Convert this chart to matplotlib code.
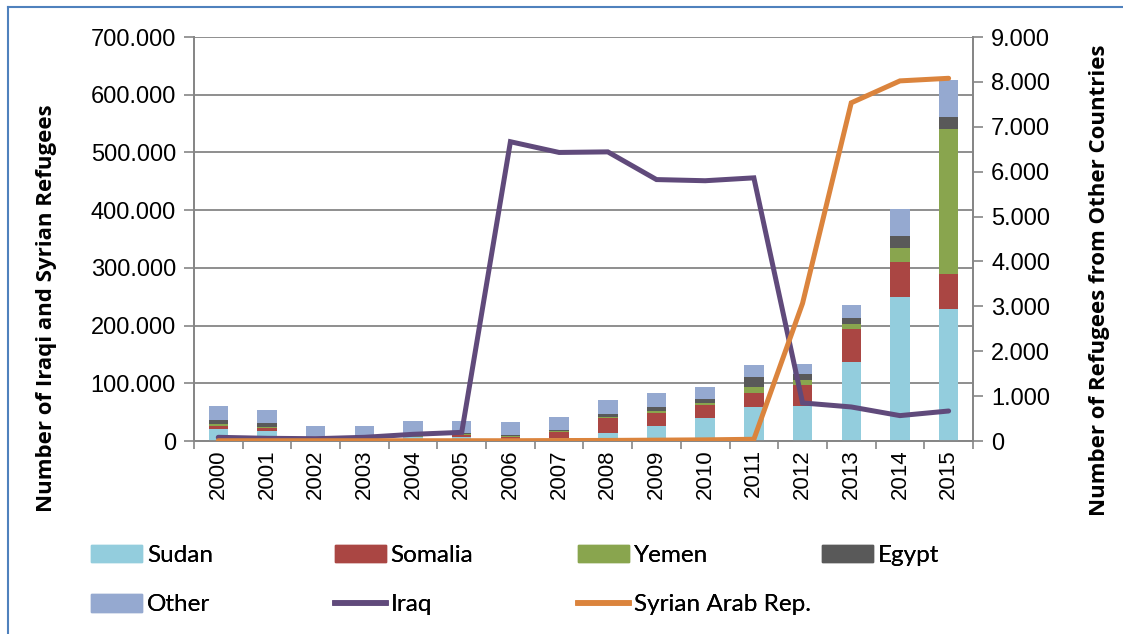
import numpy as np
import matplotlib
matplotlib.use('Agg')
import matplotlib.pyplot as plt
from matplotlib.ticker import FuncFormatter, FixedLocator
from matplotlib.patches import Patch
from matplotlib.lines import Line2D

years = ['2000', '2001', '2002', '2003', '2004', '2005', '2006', '2007',
         '2008', '2009', '2010', '2011', '2012', '2013', '2014', '2015']

# other countries (right axis)
sudan = [260, 230, 30, 50, 80, 100, 30, 60, 180, 330, 520, 750, 790, 1770, 3200, 2950]
somalia = [70, 50, 20, 30, 20, 40, 70, 150, 340, 300, 290, 330, 460, 720, 790, 760]
yemen = [50, 30, 10, 10, 10, 10, 10, 10, 20, 30, 40, 130, 120, 120, 320, 3250]
egypt = [80, 100, 30, 50, 30, 20, 20, 30, 70, 100, 90, 220, 130, 140, 260, 260]
other = [310, 270, 240, 190, 310, 280, 300, 280, 300, 300, 270, 260, 210, 290, 600, 820]

# Iraq / Syria (left axis)
iraq = [6400, 4700, 4000, 6400, 11600, 15000, 518600, 500000,
        501000, 453000, 451000, 456000, 66000, 59000, 44000, 52000]
syria = [500, 500, 500, 500, 500, 500, 500, 800,
         1000, 1500, 2000, 3000, 238600, 586000, 624000, 628500]

c_sudan = '#93CDDD'
c_somalia = '#AA4643'
c_yemen = '#89A54E'
c_egypt = '#595959'
c_other = '#95A9D0'
c_iraq = '#604A7B'
c_syria = '#DB843D'
grey = '#868686'

plt.rcParams['font.family'] = ['Liberation Sans', 'DejaVu Sans']


def dotfmt(v, pos):
    return '{:,.0f}'.format(v).replace(',', '.')


fig = plt.figure(figsize=(11.23, 6.34), dpi=100)
ax = fig.add_axes([0.1727, 0.3044, 0.6937, 0.6372])
ax2 = ax.twinx()

x = np.arange(len(years))

# bars on right axis
bottom = np.zeros(len(years))
for vals, col, lab in [(sudan, c_sudan, 'Sudan'), (somalia, c_somalia, 'Somalia'),
                       (yemen, c_yemen, 'Yemen'), (egypt, c_egypt, 'Egypt'),
                       (other, c_other, 'Other')]:
    ax2.bar(x, vals, 0.4, bottom=bottom, color=col, label=lab, zorder=2)
    bottom += np.array(vals)

# lines use left axis scale but are drawn above the bars
ax2.plot(x, iraq, color=c_iraq, lw=3.6, transform=ax.transData, zorder=3,
         solid_capstyle='round', solid_joinstyle='miter')
ax2.plot(x, syria, color=c_syria, lw=3.6, transform=ax.transData, zorder=3,
         solid_capstyle='round', solid_joinstyle='miter')

ax.set_xlim(-0.5, 15.5)
ax.set_ylim(0, 700000)
ax2.set_ylim(0, 9000)
ax.set_yticks(np.arange(0, 700001, 100000))
ax2.set_yticks(np.arange(0, 9001, 1000))
ax.yaxis.set_major_formatter(FuncFormatter(dotfmt))
ax2.yaxis.set_major_formatter(FuncFormatter(dotfmt))

ax.grid(axis='y', color=grey, lw=1.3)
ax.set_axisbelow(True)

ax.xaxis.set_major_locator(FixedLocator(np.arange(-0.5, 16, 1)))
ax.xaxis.set_minor_locator(FixedLocator(x))
ax.set_xticklabels([])
ax.set_xticklabels(years, minor=True, rotation=90)
ax.tick_params(axis='x', which='major', length=6, color=grey, width=1.2)
ax.tick_params(axis='x', which='minor', length=0, labelsize=16, pad=6)
ax.tick_params(axis='y', length=7, color=grey, width=1.2, labelsize=17, pad=6)
ax2.tick_params(axis='y', length=7, color=grey, width=1.2, labelsize=17, pad=6)

for a in (ax, ax2):
    a.spines['top'].set_visible(False)
    for s in ('left', 'right', 'bottom'):
        a.spines[s].set_color(grey)
        a.spines[s].set_linewidth(1.3)

lab_font = ['Open Sans', 'DejaVu Sans']
fig.text(0.041, 0.514, 'Number of Iraqi and Syrian Refugees', rotation=90,
         ha='center', va='center', fontsize=16, fontweight='bold', family=lab_font)
fig.text(0.979, 0.558, 'Number of Refugees from Other Countries', rotation=90,
         ha='center', va='center', fontsize=16, fontweight='bold', family=lab_font)

# legend, one block per column
cols = [
    [Patch(color=c_sudan, label='Sudan'), Patch(color=c_other, label='Other')],
    [Patch(color=c_somalia, label='Somalia'), Line2D([], [], color=c_iraq, lw=4, label='Iraq')],
    [Patch(color=c_yemen, label='Yemen'), Line2D([], [], color=c_syria, lw=4, label='Syrian Arab Rep.')],
    [Patch(color=c_egypt, label='Egypt')],
]
xs = [0.081, 0.298, 0.515, 0.732]
for hs, xp in zip(cols, xs):
    leg = fig.legend(handles=hs, loc='upper left', bbox_to_anchor=(xp, 0.141),
                     frameon=False, prop={'family': ['Lato', 'DejaVu Sans'], 'size': 17.5},
                     handlelength=2.1, handleheight=0.75, handletextpad=0.2,
                     labelspacing=1.15, borderaxespad=0, borderpad=0)
    fig.add_artist(leg)

# chart border (left and top)
fig.add_artist(Line2D([8 / 1123, 8 / 1123], [0, 1 - 7 / 634], color='#4F81BD', lw=1.5))
fig.add_artist(Line2D([8 / 1123, 1], [1 - 7 / 634, 1 - 7 / 634], color='#4F81BD', lw=1.5))

fig.savefig('out.png', dpi=100)
